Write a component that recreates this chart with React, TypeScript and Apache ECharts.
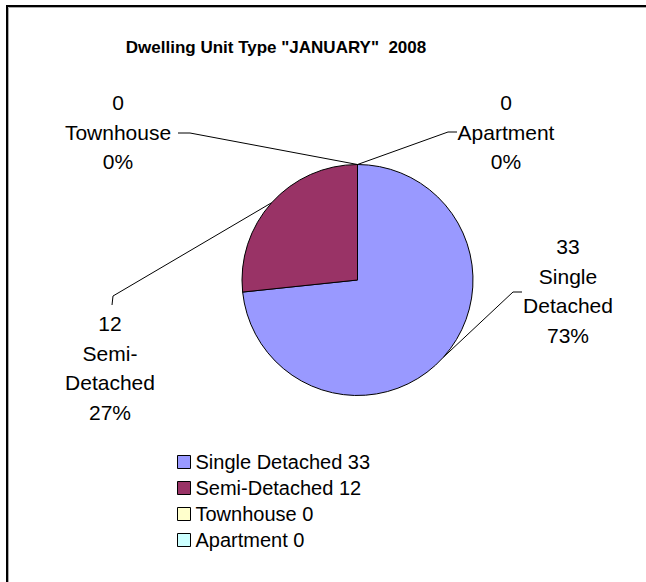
import React, { useEffect, useRef } from "react";
import * as echarts from "echarts";

const categories = ["Single Detached", "Semi-Detached", "Townhouse", "Apartment"];
const values = [33, 12, 0, 0];
const colors = ["#9999FF", "#993366", "#FFFFCC", "#CCFFFF"];
const titleText = 'Dwelling Unit Type "JANUARY"  2008';

// label placement (style, not data)
const labelPos: { x: number; y: number; mid: number[]; end: number[] }[] = [
  { x: 568, y: 291, mid: [513, 292], end: [522, 292] },
  { x: 110, y: 368, mid: [113, 296], end: [112, 305] },
  { x: 118, y: 132, mid: [190, 133], end: [178, 133] },
  { x: 506, y: 132, mid: [448, 132], end: [457, 132] },
];

function wrapName(n: string): string {
  if (n.length <= 10) return n;
  if (n.indexOf("-") >= 0) return n.replace("-", "-\n");
  return n.replace(" ", "\n");
}

export default function App() {
  const ref = useRef<HTMLDivElement>(null);
  useEffect(() => {
    if (!ref.current) return;
    const chart = echarts.init(ref.current, null, { renderer: "svg" });
    const font = "Arial, 'Liberation Sans', sans-serif";
    chart.setOption({
      animation: false,
      backgroundColor: "#ffffff",
      title: {
        text: titleText,
        left: 276,
        top: 39,
        textAlign: "center",
        padding: 0,
        textStyle: {
          fontFamily: font,
          fontSize: 17,
          fontWeight: "bold",
          color: "#000",
        },
      },
      legend: {
        orient: "vertical",
        left: 177,
        top: 452,
        padding: 0,
        icon: "rect",
        itemWidth: 13,
        itemHeight: 13,
        itemGap: 6,
        selectedMode: false,
        data: categories,
        formatter: (name: string) => {
          const i = categories.indexOf(name);
          return name + " " + values[i];
        },
        textStyle: { fontFamily: font, fontSize: 20, color: "#000", lineHeight: 20 },
        itemStyle: { borderColor: "#000", borderWidth: 1 },
      },
      graphic: [
        {
          type: "polyline",
          shape: { points: [[8.5, 582], [8.5, 7.5], [646, 7.5]] },
          style: { stroke: "#aaaaaa", lineWidth: 1, fill: null },
          silent: true,
        },
        {
          type: "polyline",
          shape: { points: [[7, 582], [7, 6], [646, 6]] },
          style: { stroke: "#000000", lineWidth: 2, fill: null },
          silent: true,
        },
      ],
      series: [
        {
          type: "pie",
          center: [357.5, 280],
          radius: 115.5,
          startAngle: 90,
          clockwise: true,
          percentPrecision: 0,
          avoidLabelOverlap: false,
          silent: true,
          data: categories.map((c, i) => ({
            name: c,
            value: values[i],
            itemStyle: { color: colors[i] },
          })),
          itemStyle: { borderColor: "#000", borderWidth: 1 },
          label: {
            show: true,
            position: "outside",
            fontFamily: font,
            fontSize: 21,
            lineHeight: 29.5,
            color: "#000",
            align: "center",
            formatter: (p: any) => `${p.value}\n${wrapName(p.name)}\n${p.percent}%`,
          },
          labelLine: { show: true, length: 10, length2: 10, lineStyle: { color: "#000", width: 1 } },
          labelLayout: (params: any) => {
            const lp = labelPos[params.dataIndex];
            const pts = params.labelLinePoints;
            const start = pts && pts[0] ? pts[0] : lp.mid;
            return {
              x: lp.x,
              y: lp.y,
              align: "center",
              verticalAlign: "middle",
              labelLinePoints: [start, lp.mid, lp.end],
            };
          },
        },
      ],
    });
    return () => chart.dispose();
  }, []);
  return (
    <div
      ref={ref}
      style={{ position: "fixed", left: 0, top: 0, width: 646, height: 582 }}
    />
  );
}
